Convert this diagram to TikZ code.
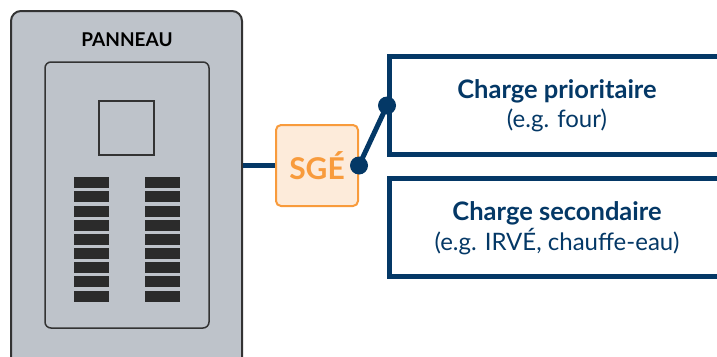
\documentclass[tikz,border=0pt]{standalone}
\usepackage{fontspec}
\setmainfont{Lato}
\begin{document}
\begin{tikzpicture}[x=1pt,y=-1pt,
  panelbox/.style={draw=panelline,fill=panelgrey,line width=2pt,rounded corners=10pt,inner sep=0pt},
  innerbox/.style={draw=panelline,line width=1.5pt,rounded corners=6pt,inner sep=0pt},
  breaker/.style={fill=breakerdark,minimum width=35pt,minimum height=11pt,inner sep=0pt},
  sgebox/.style={draw=sgeorange,fill=sgefill,line width=2pt,rounded corners=5pt,inner sep=0pt,
    minimum width=82pt,minimum height=81pt,text=sgeorange,font=\fontsize{30}{32}\selectfont\bfseries},
  loadbox/.style={draw=navy,line width=5pt,inner sep=0pt,minimum width=340pt,minimum height=98pt},
  wire/.style={draw=navy,line width=5pt},
  joint/.style={circle,fill=navy,minimum size=18pt,inner sep=0pt},
  title/.style={text=navy,font=\fontsize{25.5}{28}\selectfont\bfseries},
  note/.style={text=navy,font=\fontsize{24}{26}\selectfont}
]
\definecolor{panelgrey}{HTML}{BEC3CA}
\definecolor{panelline}{HTML}{333333}
\definecolor{breakerdark}{HTML}{2B2B2B}
\definecolor{sgeorange}{HTML}{F89B3C}
\definecolor{sgefill}{HTML}{FDEBDA}
\definecolor{navy}{HTML}{043866}
\useasboundingbox (0,0) rectangle (717,356);
\clip (0,0) rectangle (717,356);

% electrical panel
\node[panelbox,minimum width=231pt,minimum height=360pt] (panel) at (126.5,191) {};
\node[font=\fontsize{19}{21}\selectfont\bfseries] (ptitle) at (127,40) {PANNEAU};
\node[innerbox,minimum width=164pt,minimum height=266pt] (door) at (127,195) {};
\node[draw=panelline,line width=1.5pt,minimum width=55pt,minimum height=54pt,inner sep=0pt] (main) at (126.5,128) {};
\foreach \i/\y in {1/182.5,2/196.5,3/211.5,4/225.5,5/239.5,6/253.5,7/267.5,8/281.5,9/296.5}{
  \node[breaker] (bl\i) at (91.5,\y) {};
  \node[breaker] (br\i) at (162.5,\y) {};
}

% load boxes
\node[loadbox] (prio) at (559.5,105.5) {};
\node[loadbox] (sec) at (559.5,227) {};
\node[title] (priot) at (557,91.5) {Charge prioritaire};
\node[note] (prion) at (557,120.5) {(e.g. four)};
\node[title] (sect) at (557,213) {Charge secondaire};
\node[note] (secn) at (557,242) {(e.g. IRVÉ, chauffe-eau)};

% transfer switch
\node[sgebox] (sge) at (317,165.5) {SGÉ};
\draw[wire] (sge.west -| panel.east) -- (sge.west);
\node[joint] (j1) at (sge.east) {};
\node[joint] (j2) at (prio.west) {};
\draw[wire] (j1.center) -- (j2.center);
\end{tikzpicture}
\end{document}
